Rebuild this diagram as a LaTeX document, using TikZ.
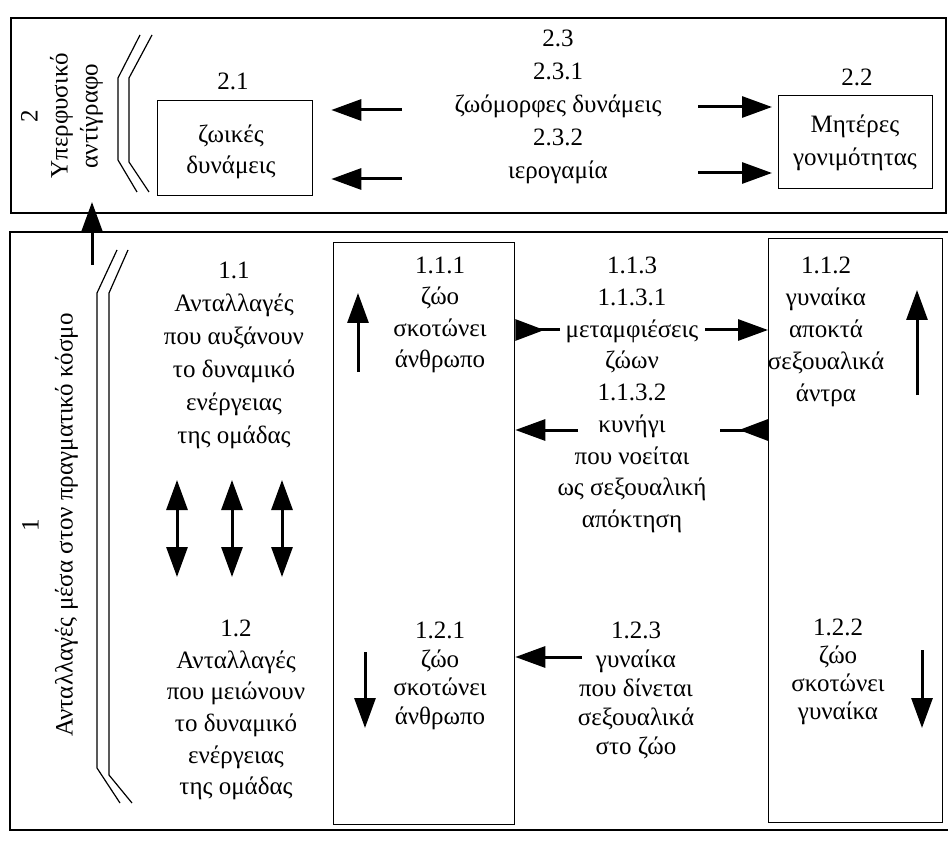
\documentclass[tikz,border=0pt]{standalone}
\usepackage{fontspec}
\setmainfont{Liberation Serif}
\usetikzlibrary{arrows.meta}
\newcommand\lsk[1]{\fontsize{25}{#1}\selectfont}
\begin{document}
\begin{tikzpicture}[x=1pt,y=-1pt,
  lbl/.style={align=center, inner sep=0pt},
  boxn/.style={draw, line width=1.3pt, inner sep=0pt, anchor=north west},
  frame/.style={line width=1.8pt},
  fat/.style={line width=3pt, -{Triangle[length=30pt,width=21pt]}},
  fatrev/.style={line width=3pt, -{Triangle[reversed,length=29pt,width=21pt]}},
  dbl/.style={line width=3pt, {Triangle[length=30pt,width=21pt]}-{Triangle[length=30pt,width=21pt]}},
  rail/.style={line width=1.2pt}]
\useasboundingbox (0,0) rectangle (948,842);
\fill[white] (0,0) rectangle (948,842);

% ---------- top frame (2) ----------
\node[draw, frame, inner sep=0pt, anchor=north west, minimum width=935pt, minimum height=195pt] (topf) at (10,17) {};
\node[lbl, rotate=90, font=\lsk{30}] (lab2) at (62,116) {2\\Υπερφυσικό\\αντίγραφο};
\draw[rail] (140,35) -- (118,78) -- (118,160) -- (137,192);
\draw[rail] (152,35) -- (129,78) -- (129,162) -- (149,192);

\node[lbl, font=\lsk{30}] (n21) at (233,81) {2.1};
\node[boxn, minimum width=155pt, minimum height=95pt] (b21) at (157,100) {};
\node[lbl, font=\lsk{31}] (t21) at (231,152) {ζωικές\\δυνάμεις};

\node[lbl, font=\lsk{30}] (n22) at (857,77) {2.2};
\node[boxn, minimum width=154pt, minimum height=93pt] (b22) at (778,95) {};
\node[lbl, font=\lsk{33}] (t22) at (855,143) {Μητέρες\\γονιμότητας};

\node[lbl, font=\lsk{33}] (t23) at (558,107) {2.3\\2.3.1\\ζωόμορφες δυνάμεις\\2.3.2\\ιερογαμία};

\coordinate (a1) at (402,110);
\coordinate (a2) at (402,179);
\coordinate (a3) at (698,107);
\coordinate (a4) at (698,173);
\draw[fat, shorten >=18pt] (a1) -- (b21.east |- a1);
\draw[fat, shorten >=18pt] (a2) -- (b21.east |- a2);
\draw[fat, shorten >=6pt] (a3) -- (b22.west |- a3);
\draw[fat, shorten >=6pt] (a4) -- (b22.west |- a4);

% ---------- bottom frame (1) ----------
\coordinate (bfA) at (948,232);
\coordinate (bfB) at (10,232);
\coordinate (bfC) at (10,830);
\coordinate (bfD) at (948,830);
\draw[frame] (bfA) -- (bfB) -- (bfC) -- (bfD);

\coordinate (up0) at (92,265);
\draw[fat] (up0) -- (92,202);

\node[lbl, rotate=90, font=\lsk{34}] (lab1) at (50,525) {1\\Ανταλλαγές μέσα στον πραγματικό κόσμο};
\draw[rail] (117,250) -- (97,293) -- (97,768) -- (120,803);
\draw[rail] (128,250) -- (109,293) -- (109,775) -- (132,803);

\node[lbl, font=\lsk{33}] (t11) at (234,355) {1.1\\Ανταλλαγές\\που αυξάνουν\\το δυναμικό\\ενέργειας\\της ομάδας};
\node[lbl, font=\lsk{31.6}] (t12) at (236,710) {1.2\\Ανταλλαγές\\που μειώνουν\\το δυναμικό\\ενέργειας\\της ομάδας};

\coordinate (d1a) at (177,480); \coordinate (d1b) at (177,577);
\coordinate (d2a) at (232,480); \coordinate (d2b) at (232,577);
\coordinate (d3a) at (282,480); \coordinate (d3b) at (282,577);
\draw[dbl] (d1a) -- (d1b);
\draw[dbl] (d2a) -- (d2b);
\draw[dbl] (d3a) -- (d3b);

\node[boxn, minimum width=181pt, minimum height=582pt] (b111) at (333,242) {};
\node[boxn, minimum width=174pt, minimum height=584pt] (b112) at (768,238) {};

\node[lbl, font=\lsk{31.5}] (t111) at (440,315) {1.1.1\\ζώο\\σκοτώνει\\άνθρωπο};
\node[lbl, font=\lsk{28.5}] (t121) at (440,676) {1.2.1\\ζώο\\σκοτώνει\\άνθρωπο};
\node[lbl, font=\lsk{31.75}] (t113) at (632,395) {1.1.3\\1.1.3.1\\μεταμφιέσεις\\ζώων\\1.1.3.2\\κυνήγι\\που νοείται\\ως σεξουαλική\\απόκτηση};
\node[lbl, font=\lsk{29}] (t123) at (636,690) {1.2.3\\γυναίκα\\που δίνεται\\σεξουαλικά\\στο ζώο};
\node[lbl, font=\lsk{32}] (t112) at (826,332) {1.1.2\\γυναίκα\\αποκτά\\σεξουαλικά\\άντρα};
\node[lbl, font=\lsk{28}] (t122) at (838,672) {1.2.2\\ζώο\\σκοτώνει\\γυναίκα};

% vertical arrows inside boxes
\coordinate (v1a) at (358,372); \coordinate (v1b) at (358,293);
\coordinate (v2a) at (917,395); \coordinate (v2b) at (917,290);
\coordinate (v3a) at (365,652); \coordinate (v3b) at (365,728);
\coordinate (v4a) at (922,650); \coordinate (v4b) at (922,728);
\draw[fat] (v1a) -- (v1b);
\draw[fat] (v2a) -- (v2b);
\draw[fat] (v3a) -- (v3b);
\draw[fat] (v4a) -- (v4b);

% horizontal arrows in the middle
\coordinate (h1) at (560,330);
\coordinate (h2) at (705,330);
\coordinate (h3) at (578,430);
\coordinate (h4) at (720,430);
\coordinate (h5) at (582,657);
\draw[fatrev] (h1) -- (b111.east |- h1);
\draw[fat] (h2) -- (b112.west |- h2);
\draw[fat] (h3) -- (b111.east |- h3);
\draw[fatrev] (h4) -- (b112.west |- h4);
\draw[fat] (h5) -- (b111.east |- h5);
\end{tikzpicture}
\end{document}
